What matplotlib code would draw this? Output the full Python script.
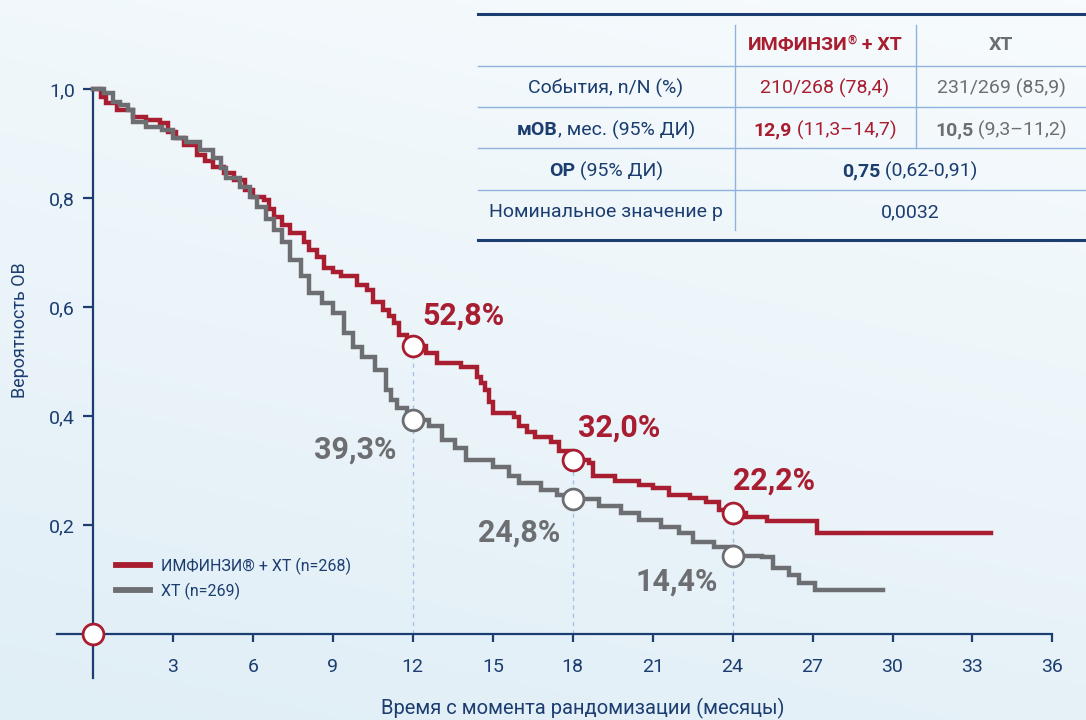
import numpy as np
import matplotlib
matplotlib.use('Agg')
import matplotlib.pyplot as plt
from matplotlib.colors import LinearSegmentedColormap
from matplotlib.lines import Line2D

plt.rcParams['font.family'] = ['Roboto', 'DejaVu Sans']

# =============================================================================
# Данные
# =============================================================================

# ИМФИНЗИ + ХТ: время (мес.) и вероятность ОВ
t_imf = [0, 0.3, 0.5, 0.9, 1.5, 2.0, 2.5, 2.8, 3.1, 3.4, 3.9, 4.2, 4.5, 4.9,
         5.3, 5.7, 6.0, 6.4, 6.6, 6.8, 7.1, 7.4, 7.9, 8.1, 8.4, 8.65, 9.0,
         9.3, 9.9, 10.3, 10.5, 10.9, 11.1, 11.3, 11.5, 11.8, 12.0, 12.5, 12.9,
         13.8, 14.4, 14.55, 14.7, 14.85, 15.0, 15.8, 16.0, 16.3, 16.6, 17.2,
         17.5, 17.9, 18.6, 18.75, 19.6, 20.5, 21.0, 21.6, 22.4, 23.0, 23.5,
         24.0, 24.5, 25.3, 27.15, 33.7]
s_imf = [1.0, 0.985, 0.974, 0.961, 0.949, 0.943, 0.937, 0.922, 0.910, 0.897,
         0.879, 0.868, 0.857, 0.845, 0.833, 0.815, 0.802, 0.796, 0.780, 0.766,
         0.750, 0.735, 0.720, 0.705, 0.692, 0.671, 0.665, 0.656, 0.640, 0.631,
         0.610, 0.595, 0.583, 0.571, 0.549, 0.537, 0.528, 0.515, 0.497, 0.490,
         0.472, 0.460, 0.448, 0.425, 0.405, 0.399, 0.381, 0.370, 0.362, 0.353,
         0.335, 0.320, 0.314, 0.289, 0.280, 0.273, 0.268, 0.255, 0.250, 0.243,
         0.228, 0.222, 0.214, 0.208, 0.186, 0.186]

# ХТ
t_ht = [0, 0.4, 0.75, 1.0, 1.3, 1.5, 2.0, 2.6, 3.0, 3.5, 4.0, 4.5, 4.8, 5.0,
        5.5, 5.9, 6.15, 6.5, 6.8, 7.1, 7.4, 7.8, 8.1, 8.6, 9.0, 9.4, 9.75,
        10.1, 10.6, 11.0, 11.2, 11.4, 11.8, 12.0, 12.6, 13.1, 13.6, 14.0,
        15.0, 15.6, 16.0, 16.8, 17.4, 18.0, 19.0, 19.8, 20.5, 21.3, 22.0,
        22.5, 23.3, 24.0, 25.1, 25.5, 26.1, 26.5, 27.1, 29.65]
s_ht = [1.0, 0.993, 0.977, 0.970, 0.961, 0.940, 0.931, 0.925, 0.910, 0.903,
        0.888, 0.873, 0.855, 0.837, 0.821, 0.802, 0.784, 0.762, 0.741, 0.720,
        0.686, 0.656, 0.625, 0.607, 0.589, 0.552, 0.527, 0.509, 0.484, 0.448,
        0.430, 0.415, 0.400, 0.393, 0.381, 0.356, 0.341, 0.319, 0.307, 0.289,
        0.277, 0.264, 0.255, 0.248, 0.234, 0.222, 0.209, 0.197, 0.185, 0.169,
        0.160, 0.144, 0.142, 0.121, 0.108, 0.093, 0.080, 0.080]

# отметки на 12, 18, 24 мес.
mark_t = [12, 18, 24]
mark_imf = [0.528, 0.320, 0.222]
mark_ht = [0.393, 0.248, 0.144]
lab_imf = ['52,8%', '32,0%', '22,2%']
lab_ht = ['39,3%', '24,8%', '14,4%']

x_ticks = [3, 6, 9, 12, 15, 18, 21, 24, 27, 30, 33, 36]
y_ticks = [0.2, 0.4, 0.6, 0.8, 1.0]
y_ticklabels = ['0,2', '0,4', '0,6', '0,8', '1,0']

legend_labels = ['ИМФИНЗИ® + ХТ (n=268)', 'ХТ (n=269)']

RED = '#a91d31'
GRAY = '#6d6e71'
NAVY = '#1b3d70'
LIGHT = '#a9c3e6'

W, H = 1086, 720

# =============================================================================
# Фигура
# =============================================================================

fig = plt.figure(figsize=(W / 100, H / 100), dpi=100)
ax = fig.add_axes([0, 0, 1, 1])

# пиксели -> данные: x = 93 + 26.65*t, y = 634 - 545*s
px_per_t = 26.65
px_per_s = 545.0
ax.set_xlim(-93 / px_per_t, (W - 93) / px_per_t)
ax.set_ylim(-(H - 634) / px_per_s, 634 / px_per_s)

# фон с градиентом
gy, gx = np.mgrid[0:1:200j, 0:1:200j]
grad = 0.75 * gy + 0.25 * gx
cmap = LinearSegmentedColormap.from_list('bg', ['#e0eef6', '#f7fbfd'])
ax.imshow(grad, cmap=cmap, extent=[0, 1, 1, 0], transform=ax.transAxes,
          aspect='auto', zorder=0)

# оси
for side in ['top', 'right']:
    ax.spines[side].set_visible(False)
ax.spines['left'].set_position(('data', 0))
ax.spines['bottom'].set_position(('data', 0))
ax.spines['left'].set_bounds(-44 / px_per_s, 1.0)
ax.spines['bottom'].set_bounds(-36 / px_per_t, 36)
for side in ['left', 'bottom']:
    ax.spines[side].set_color(NAVY)
    ax.spines[side].set_linewidth(1.6)
    ax.spines[side].set_zorder(2)

ax.set_xticks(x_ticks)
ax.set_xticklabels([str(v) for v in x_ticks])
ax.set_yticks(y_ticks)
ax.set_yticklabels(y_ticklabels)
ax.tick_params(axis='x', direction='out', length=6, width=1.6, color=NAVY,
               labelcolor=NAVY, labelsize=14, pad=11)
ax.tick_params(axis='y', direction='out', length=7, width=1.6, color=NAVY,
               labelcolor=NAVY, labelsize=14, pad=6)

# пунктирные линии
for tm, v in zip(mark_t, mark_imf):
    ax.plot([tm, tm], [0, v], ls=(0, (3, 3)), color=LIGHT, lw=1.0, zorder=1)

# кривые
ax.step(t_imf, s_imf, where='post', color=RED, lw=3.2, zorder=3,
        solid_joinstyle='miter')
ax.step(t_ht, s_ht, where='post', color=GRAY, lw=3.2, zorder=4,
        solid_joinstyle='miter')

# кружки
ax.plot(mark_t, mark_imf, 'o', ms=15, mfc='white', mec=RED, mew=2.0, zorder=5)
ax.plot(mark_t, mark_ht, 'o', ms=15, mfc='white', mec=GRAY, mew=2.0, zorder=5)
ax.plot([0], [0], 'o', ms=15, mfc='white', mec=RED, mew=2.0, zorder=5,
        clip_on=False)

# подписи процентов
imf_pos = [(12.35, 0.585), (18.2, 0.378), (24.0, 0.281)]
ht_pos = [(11.37, 0.338), (17.52, 0.187), (23.45, 0.097)]
for (x, y), s in zip(imf_pos, lab_imf):
    ax.text(x, y, s, color=RED, fontsize=22, fontweight='bold',
            ha='left', va='center', zorder=6)
for (x, y), s in zip(ht_pos, lab_ht):
    ax.text(x, y, s, color=GRAY, fontsize=22, fontweight='bold',
            ha='right', va='center', zorder=6)

# легенда
handles = [Line2D([], [], color=RED, lw=4.2), Line2D([], [], color=GRAY, lw=4.2)]
leg = ax.legend(handles, legend_labels, loc='upper left',
                bbox_to_anchor=(102 / W, 1 - 543 / H), frameon=False,
                fontsize=11.5, handlelength=2.1, handletextpad=0.7,
                labelspacing=0.5, labelcolor=NAVY)

# подписи осей
fig.text(583 / W, 1 - 708 / H, 'Время с момента рандомизации (месяцы)',
         color=NAVY, fontsize=14.5, ha='center', va='center')
fig.text(20 / W, 1 - 330 / H, 'Вероятность ОВ', color=NAVY, fontsize=13,
         ha='center', va='center', rotation=90)

# =============================================================================
# Таблица
# =============================================================================

def hline(y, x0, x1, color, lw):
    fig.add_artist(Line2D([x0 / W, x1 / W], [1 - y / H, 1 - y / H],
                          color=color, lw=lw))

def vline(x, y0, y1, color, lw):
    fig.add_artist(Line2D([x / W, x / W], [1 - y0 / H, 1 - y1 / H],
                          color=color, lw=lw))

hline(14, 478, W, NAVY, 2.2)
hline(240, 478, W, NAVY, 2.2)
for y in [66, 107, 148, 190]:
    hline(y, 478, W, '#8fb2de', 1.0)
vline(735, 25, 230, '#8fb2de', 1.0)
vline(916, 25, 148, '#8fb2de', 1.0)

renderer = fig.canvas.get_renderer()

def mixed(xc, yc, parts, size=14):
    # parts: (текст, цвет, жирность, масштаб размера, сдвиг по y в px)
    objs = []
    total = 0
    for s, c, wt, sc, dy in parts:
        t = fig.text(0, 1 - (yc - dy) / H, s, color=c, fontweight=wt,
                     fontsize=size * sc, ha='left', va='center')
        w = t.get_window_extent(renderer).width
        objs.append((t, w))
        total += w
    x = xc - total / 2
    for t, w in objs:
        t.set_x(x / W)
        x += w

def p(s, c=NAVY, wt='normal', sc=1.0, dy=0):
    return (s, c, wt, sc, dy)

mixed(825, 45, [p('ИМФИНЗИ', RED, 'bold'), p('®', RED, 'bold', 0.6, 5),
                p(' + ХТ', RED, 'bold')])
mixed(1001, 45, [p('ХТ', GRAY, 'bold')])

mixed(606, 88, [p('События, n/N (%)')])
mixed(825, 88, [p('210/268 (78,4)', RED)])
mixed(1001, 88, [p('231/269 (85,9)', GRAY)])

mixed(606, 130, [p('мОВ', NAVY, 'bold'), p(', мес. (95% ДИ)')])
mixed(825, 130, [p('12,9', RED, 'bold'), p(' (11,3–14,7)', RED)])
mixed(1001, 130, [p('10,5', GRAY, 'bold'), p(' (9,3–11,2)', GRAY)])

mixed(606, 171, [p('ОР', NAVY, 'bold'), p(' (95% ДИ)')])
mixed(910, 171, [p('0,75', NAVY, 'bold'), p(' (0,62-0,91)')])

mixed(606, 212, [p('Номинальное значение р')])
mixed(910, 212, [p('0,0032')])

fig.savefig('out.png', dpi=100)
